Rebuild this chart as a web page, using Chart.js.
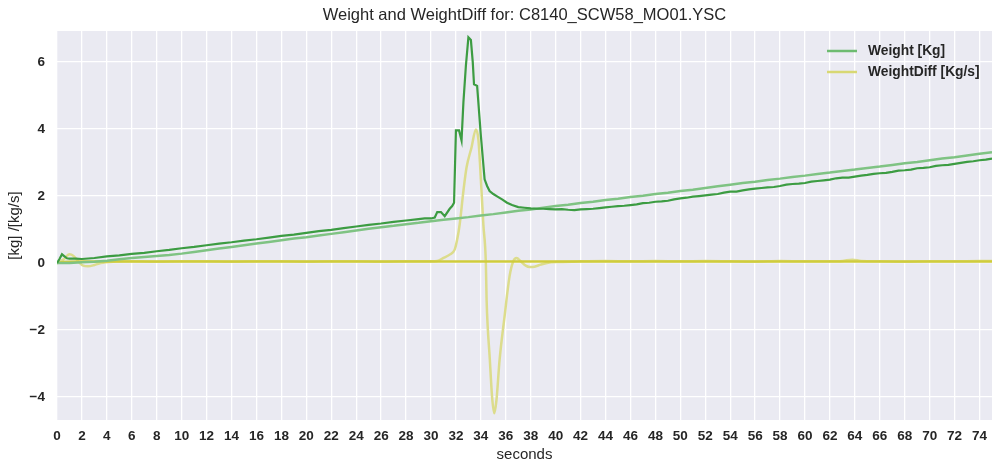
<!DOCTYPE html>
<html>
<head>
<meta charset="utf-8">
<script src="https://cdn.jsdelivr.net/npm/chart.js@4/dist/chart.umd.min.js"></script>
<style>
  html, body { margin: 0; padding: 0; background: #ffffff; }
  #wrap { width: 992px; height: 467px; }
</style>
</head>
<body>
<div id="wrap"><canvas id="c" width="992" height="467"></canvas></div>
<script>
// ---------------- data ----------------
const chartTitle = "Weight and WeightDiff for: C8140_SCW58_MO01.YSC";
const xLabel = "seconds";
const yLabel = "[kg] /[kg/s]";
const legendLabels = ["Weight [Kg]", "WeightDiff [Kg/s]"];
const xTicks = [0,2,4,6,8,10,12,14,16,18,20,22,24,26,28,30,32,34,36,38,40,42,44,46,48,50,52,54,56,58,60,62,64,66,68,70,72,74];
const yTicks = [-4,-2,0,2,4,6];

// raw weight [Kg]
const rawT = [0,0.2,0.4,0.6,0.8,1,1.5,2,3,4,5,6,7,8,9,10,11,12,13,14,15,16,17,18,19,20,21,22,23,24,25,26,27,28,29,29.5,30,30.3,30.5,30.8,31.1,31.5,31.7,31.85,32.0,32.25,32.45,32.6,32.8,33.0,33.2,33.35,33.45,33.7,34.0,34.3,34.5,34.7,35.0,35.3,35.7,36.1,36.5,37,37.5,38,38.5,39,39.5,40,40.5,41,41.5,42,42.5,43,43.5,44,44.5,45,45.5,46,46.5,47,47.5,48,48.5,49,49.5,50,50.5,51,51.5,52,52.5,53,53.5,54,54.5,55,55.5,56,56.5,57,57.5,58,58.5,59,59.5,60,60.5,61,61.5,62,62.5,63,63.5,64,64.5,65,65.5,66,66.5,67,67.5,68,68.5,69,69.5,70,70.5,71,71.5,72,72.5,73,73.5,74,74.5,75];
const rawW = [0,0.12,0.26,0.2,0.14,0.13,0.13,0.12,0.15,0.2,0.23,0.27,0.3,0.35,0.39,0.44,0.48,0.53,0.58,0.62,0.67,0.71,0.76,0.81,0.85,0.9,0.95,0.99,1.04,1.09,1.14,1.18,1.23,1.27,1.31,1.33,1.33,1.36,1.52,1.52,1.40,1.62,1.7,1.8,3.96,3.96,3.66,4.8,5.9,6.74,6.66,6.0,5.34,5.29,3.8,2.5,2.3,2.15,2.06,1.99,1.9,1.8,1.73,1.67,1.65,1.63,1.62,1.62,1.61,1.60,1.61,1.59,1.58,1.6,1.61,1.62,1.64,1.66,1.68,1.70,1.71,1.73,1.75,1.79,1.80,1.83,1.84,1.86,1.9,1.93,1.95,1.98,2.0,2.02,2.04,2.06,2.1,2.13,2.13,2.17,2.2,2.22,2.24,2.26,2.27,2.3,2.34,2.36,2.37,2.39,2.43,2.45,2.47,2.49,2.53,2.55,2.55,2.58,2.61,2.63,2.66,2.68,2.69,2.72,2.76,2.77,2.79,2.83,2.84,2.86,2.9,2.92,2.93,2.96,2.99,3.02,3.04,3.07,3.09,3.12];

// filtered weight [Kg]
const filtT = [0,1,2,3,4,5,6,7,8,9,10,11,12,13,14,15,16,17,18,19,20,21,22,23,24,25,26,27,28,29,30,31,32,33,34,35,36,37,38,39,40,41,42,43,44,45,46,47,48,49,50,51,52,53,54,55,56,57,58,59,60,61,62,63,64,65,66,67,68,69,70,71,72,73,74,75];
const filtW = [0,0.0,0.02,0.04,0.07,0.11,0.15,0.18,0.21,0.24,0.28,0.33,0.38,0.43,0.48,0.53,0.58,0.63,0.68,0.73,0.77,0.82,0.87,0.92,0.97,1.02,1.07,1.11,1.16,1.20,1.25,1.29,1.33,1.37,1.42,1.46,1.51,1.56,1.60,1.65,1.70,1.74,1.79,1.83,1.88,1.92,1.97,2.01,2.06,2.10,2.15,2.19,2.24,2.29,2.34,2.39,2.43,2.48,2.52,2.57,2.61,2.66,2.70,2.75,2.79,2.84,2.88,2.93,2.98,3.02,3.07,3.12,3.16,3.21,3.26,3.31];

// raw weight diff [Kg/s]
const rawDiffT = [0,0.5,1.0,1.3,1.7,2.1,2.5,3,3.5,4.5,6,8,10,12,14,16,18,20,22,24,26,28,29,30,30.5,31,31.5,31.9,32.1,32.3,32.6,32.85,33.25,33.6,33.8,34.0,34.2,34.4,34.46,34.72,34.9,35.07,35.25,35.5,35.9,36.3,36.6,36.86,37.2,37.6,37.9,38.3,38.8,39.3,40.3,42,44,46,48,50,52,54,56,58,60,62,63,63.8,64.5,66,68,70,72,74,75];
const rawDiff = [0,0.1,0.26,0.22,0.05,-0.08,-0.1,-0.06,0.0,0.04,0.05,0.04,0.05,0.05,0.04,0.05,0.05,0.04,0.05,0.05,0.04,0.05,0.05,0.05,0.06,0.15,0.25,0.4,0.7,1.15,2.15,2.85,3.45,3.99,3.69,2.5,1.15,0.0,-1.1,-2.89,-4.0,-4.49,-4.1,-2.9,-1.6,-0.4,0.05,0.15,0.05,-0.08,-0.12,-0.11,-0.05,0.0,0.03,0.05,0.06,0.05,0.06,0.05,0.06,0.05,0.04,0.06,0.05,0.05,0.06,0.1,0.06,0.05,0.04,0.05,0.05,0.06,0.06];

// filtered weight diff [Kg/s]
const filtDiffT = [0,0.5,1,2,4,6,8,10,14,18,22,26,30,34,38,42,46,50,54,58,62,66,70,75];
const filtDiff = [0,0.03,0.04,0.045,0.045,0.046,0.045,0.046,0.045,0.046,0.045,0.046,0.045,0.046,0.045,0.046,0.045,0.045,0.046,0.045,0.046,0.045,0.046,0.045];

// ---------------- build ----------------
const pts = (xs, ys) => xs.map((x, i) => ({x: x, y: ys[i]}));

const FONT = '"Liberation Sans", Arial, sans-serif';
const colRaw = '#3c9c42';
const colFilt = '#7fc383';
const colRawDiff = '#dcdc8c';
const colFiltDiff = '#cfcc3c';
const legendColors = ['#6dbb70', '#d8d873'];

const bgPlugin = {
  id: 'bg',
  beforeDraw(chart) {
    const {ctx, chartArea: a} = chart;
    ctx.save();
    ctx.fillStyle = '#ffffff';
    ctx.fillRect(0, 0, chart.width, chart.height);
    ctx.fillStyle = '#EAEAF2';
    ctx.fillRect(a.left, a.top, a.right - a.left, a.bottom - a.top);
    ctx.restore();
  }
};

const titlePlugin = {
  id: 'plotTitle',
  afterDraw(chart) {
    const {ctx, chartArea: a} = chart;
    ctx.save();
    ctx.font = '16.5px ' + FONT;
    ctx.fillStyle = '#262626';
    ctx.textAlign = 'center';
    ctx.textBaseline = 'middle';
    ctx.fillText(chartTitle, (a.left + a.right) / 2, 15);
    ctx.restore();
  }
};

const legendPlugin = {
  id: 'innerLegend',
  afterDraw(chart) {
    const {ctx, chartArea: a} = chart;
    ctx.save();
    ctx.font = 'bold 13.8px ' + FONT;
    ctx.textBaseline = 'middle';
    ctx.textAlign = 'left';
    const x0 = a.right - 165;
    const y0 = a.top + 20;
    legendLabels.forEach((lab, i) => {
      const y = y0 + i * 21;
      ctx.strokeStyle = legendColors[i];
      ctx.lineWidth = 2.5;
      ctx.beginPath();
      ctx.moveTo(x0, y);
      ctx.lineTo(x0 + 30, y);
      ctx.stroke();
      ctx.fillStyle = '#262626';
      ctx.fillText(lab, x0 + 41, y);
    });
    ctx.restore();
  }
};

const setTicks = (vals) => (scale) => {
  scale.ticks = vals.map(v => ({value: v}));
};

new Chart(document.getElementById('c'), {
  type: 'line',
  data: {
    datasets: [
      { label: legendLabels[0], data: pts(rawT, rawW), borderColor: colRaw, borderWidth: 2.2, pointRadius: 0, tension: 0, order: 1 },
      { label: legendLabels[0] + ' filtered', data: pts(filtT, filtW), borderColor: colFilt, borderWidth: 2.5, pointRadius: 0, tension: 0, order: 2 },
      { label: legendLabels[1] + ' filtered', data: pts(filtDiffT, filtDiff), borderColor: colFiltDiff, borderWidth: 2.5, pointRadius: 0, tension: 0, order: 3 },
      { label: legendLabels[1], data: pts(rawDiffT, rawDiff), borderColor: colRawDiff, borderWidth: 2.5, pointRadius: 0, cubicInterpolationMode: 'monotone', order: 4 }
    ]
  },
  options: {
    responsive: false,
    animation: false,
    events: [],
    layout: { padding: { left: 0, right: 0, top: 31, bottom: 0 } },
    plugins: {
      legend: { display: false },
      tooltip: { enabled: false },
      title: { display: false }
    },
    scales: {
      x: {
        type: 'linear',
        min: 0, max: 75,
        afterBuildTicks: setTicks(xTicks),
        afterFit(scale) { scale.height = 47; scale.paddingLeft = 0; scale.paddingRight = 0; },
        border: { display: false },
        grid: { color: '#ffffff', lineWidth: 1.3, drawTicks: false },
        ticks: {
          autoSkip: false, maxRotation: 0, padding: 8, color: '#262626',
          font: { family: FONT, size: 13.5, weight: 'bold' }
        },
        title: {
          display: true, text: xLabel, color: '#262626',
          font: { family: FONT, size: 15, weight: 'normal' },
          padding: { top: 0, bottom: 3 }
        }
      },
      y: {
        type: 'linear',
        min: -4.69, max: 6.93,
        afterBuildTicks: setTicks(yTicks),
        afterFit(scale) { scale.width = 57; scale.paddingTop = 0; scale.paddingBottom = 0; },
        border: { display: false },
        grid: { color: '#ffffff', lineWidth: 1.3, drawTicks: false },
        ticks: {
          padding: 12, color: '#262626',
          callback: (v) => (v < 0 ? '\u2212' + Math.abs(v) : String(v)),
          font: { family: FONT, size: 13.5, weight: 'bold' }
        },
        title: {
          display: true, text: yLabel, color: '#262626',
          font: { family: FONT, size: 15, weight: 'normal' },
          padding: { top: 6, bottom: 0 }
        }
      }
    }
  },
  plugins: [bgPlugin, titlePlugin, legendPlugin]
});
</script>
</body>
</html>
